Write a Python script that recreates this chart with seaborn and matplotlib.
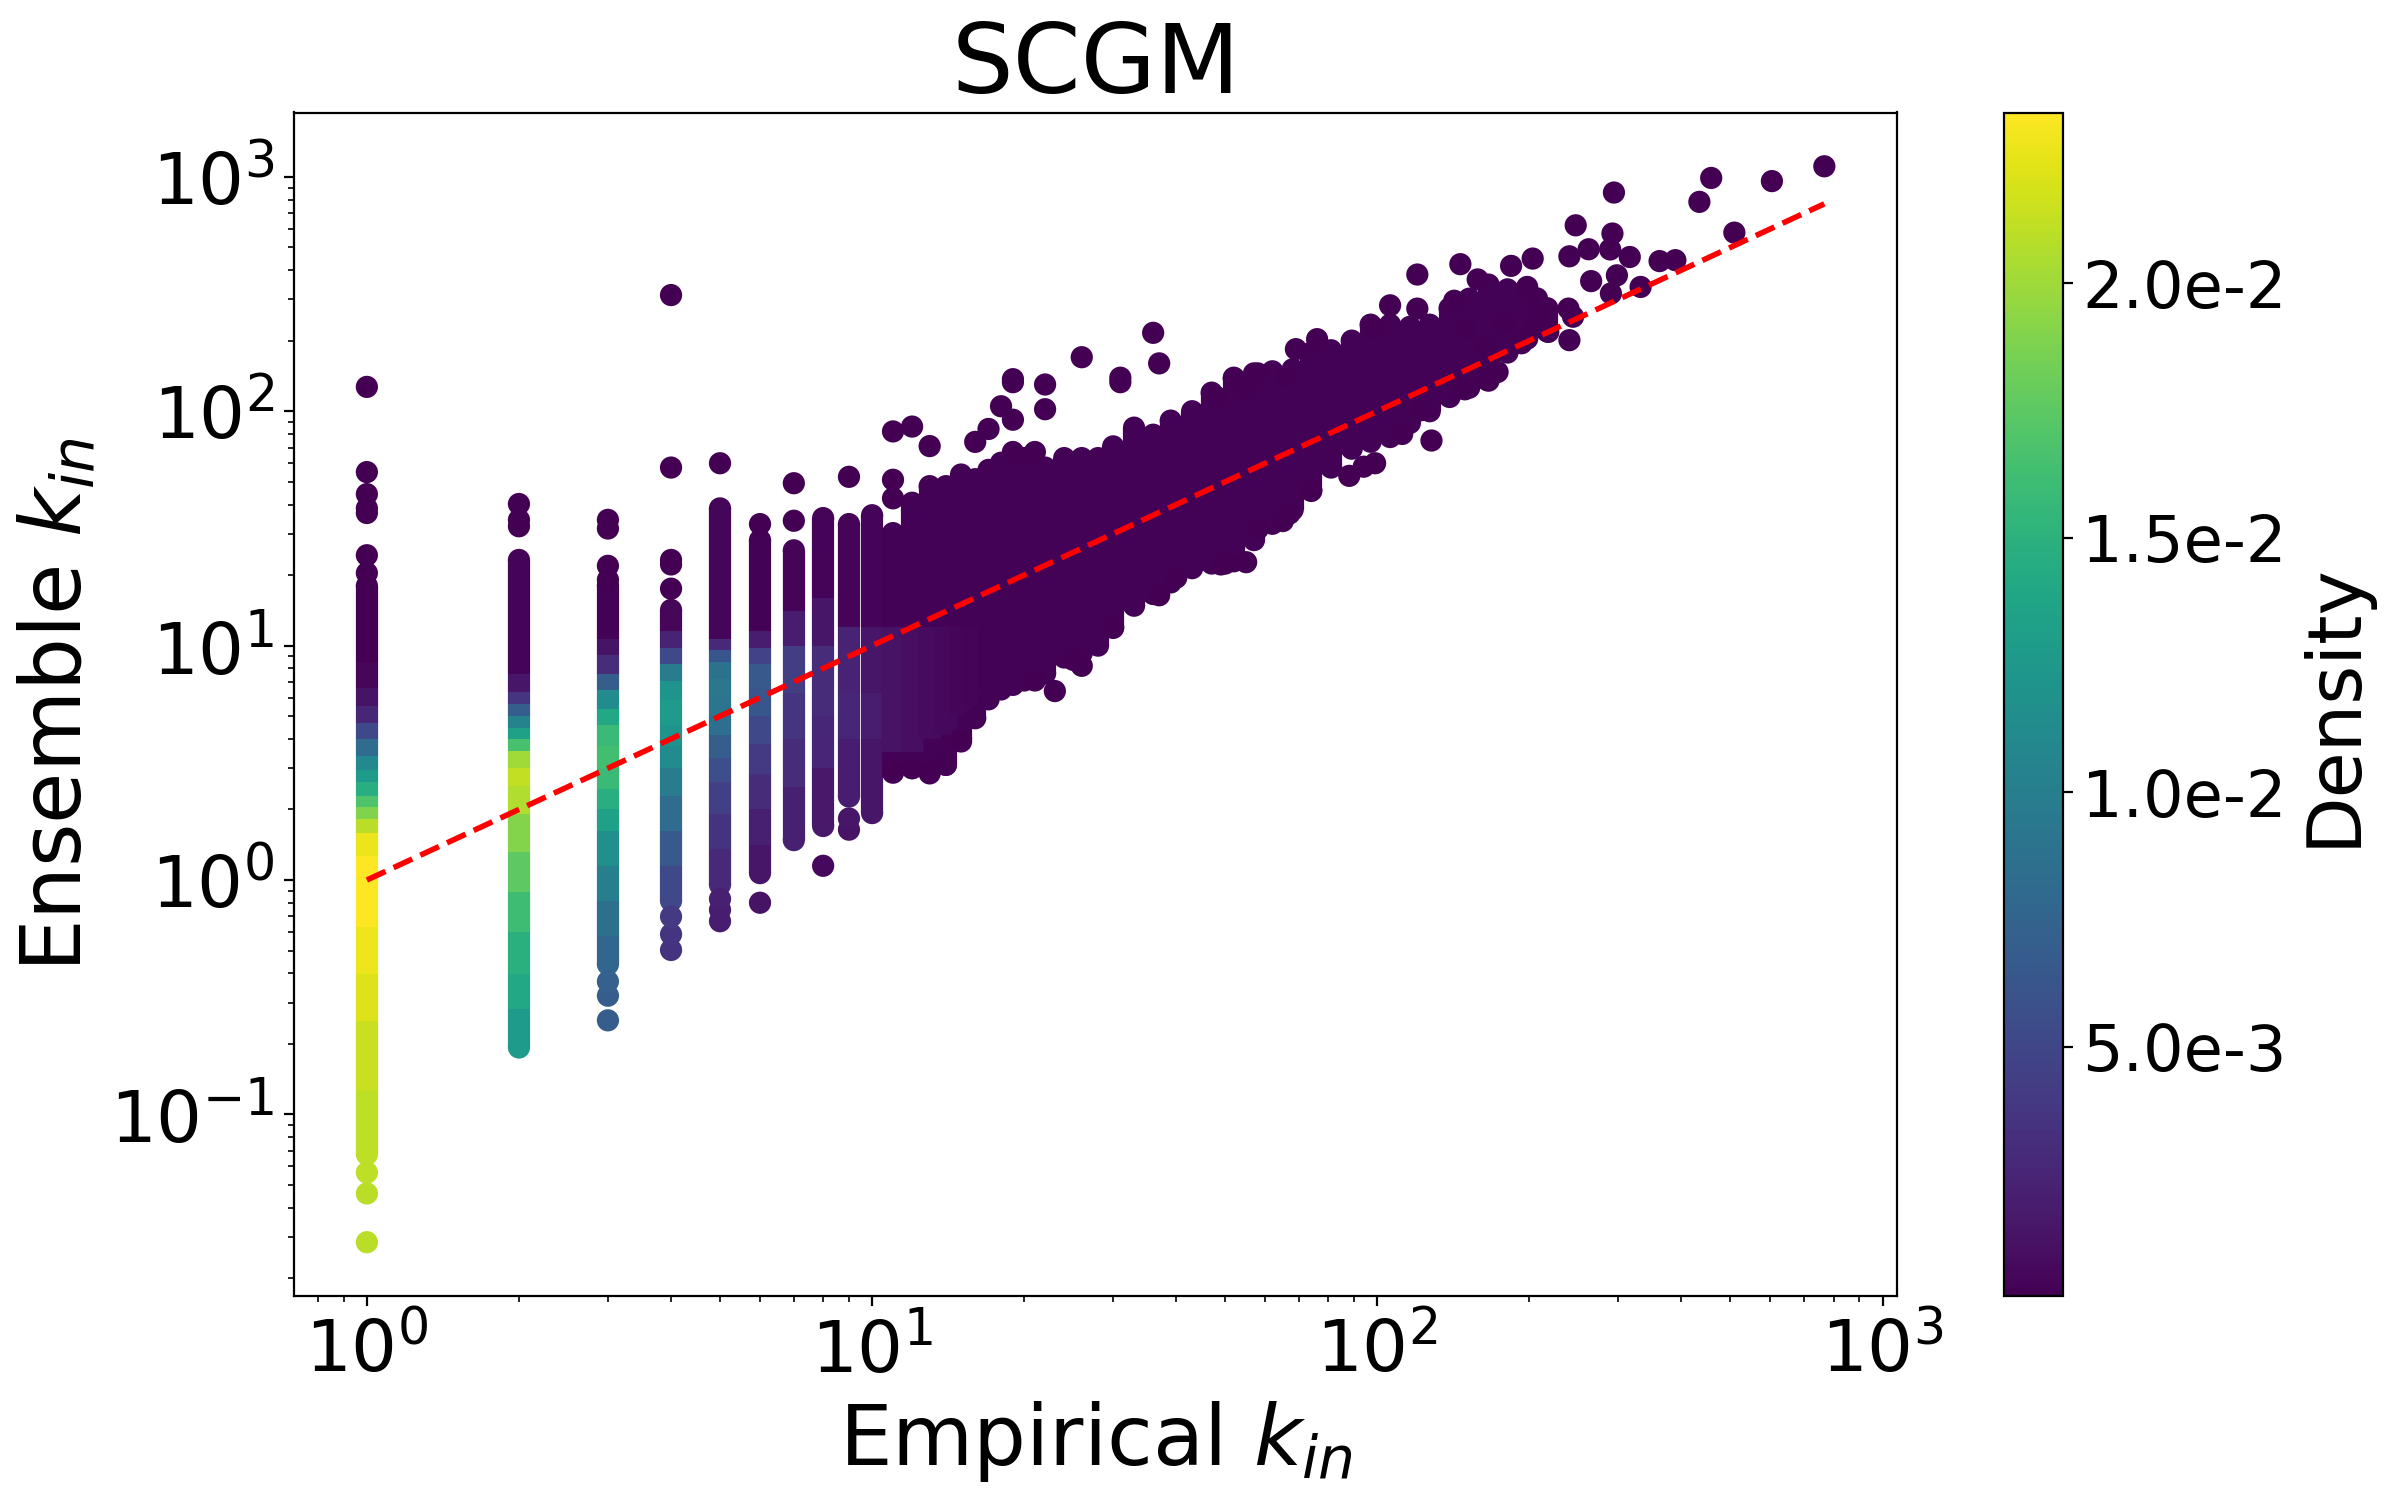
import numpy as np
import pandas as pd
import matplotlib
matplotlib.use("Agg")
import matplotlib.pyplot as plt
import seaborn as sns
from matplotlib.colors import Normalize
from matplotlib.ticker import FuncFormatter

# Escala de densidad de la barra de color
dens_min = 0.0001
dens_max = 0.02335

# Columnas k_in = 1..10: cortes en y y densidad (x1e-3) de cada tramo
c1_y = [0.0676, 0.126, 0.251, 0.398, 0.631, 1.26, 1.58, 1.82, 2.04, 2.29, 2.63, 2.95, 3.39, 3.98, 4.68, 5.5, 6.6, 8.5, 18]
c1_d = [21.0, 21.4, 22.1, 22.8, 23.3, 22.7, 20.9, 18.9, 16.9, 14.7, 12.8, 11.0, 8.2, 5.1, 2.6, 1.2, 0.5, 0.1]
c2_y = [0.193, 0.282, 0.398, 0.603, 0.891, 1.32, 1.91, 2.51, 3.02, 3.55, 3.98, 4.47, 5.01, 5.62, 6.31, 7.59, 23.2]
c2_d = [12.8, 14.0, 14.9, 16.1, 17.6, 19.0, 20.6, 21.2, 20.0, 16.6, 13.3, 10.5, 7.0, 3.7, 1.4, 0.35]
c3_y = [0.437, 0.575, 0.813, 1.15, 1.62, 2.0, 2.45, 3.02, 3.72, 4.57, 5.37, 6.46, 7.59, 9.12, 10.7, 18.1]
c3_d = [7.7, 8.6, 10.0, 11.7, 13.3, 14.7, 15.9, 16.3, 15.9, 14.0, 11.2, 7.0, 3.0, 1.2, 0.2]
c4_y = [0.815, 1.15, 1.62, 2.29, 3.02, 3.72, 4.57, 5.89, 7.08, 8.32, 9.77, 11.5, 14.2]
c4_d = [5.1, 6.5, 8.2, 9.8, 11.2, 12.1, 12.8, 12.1, 9.8, 5.1, 2.3, 0.5]
c5_y = [0.955, 1.35, 1.91, 2.63, 3.31, 4.17, 5.01, 6.03, 7.24, 8.51, 9.55, 10.7, 38.5]
c5_d = [2.8, 3.5, 4.4, 5.6, 7.0, 8.4, 9.1, 9.3, 8.9, 6.3, 2.8, 0.4]
c6_y = [1.07, 1.41, 2.0, 2.82, 3.8, 5.01, 6.61, 8.32, 9.77, 11.5, 28.2]
c6_d = [1.4, 2.1, 3.0, 4.0, 5.1, 6.3, 6.5, 4.7, 1.9, 0.25]
c7_y = [1.48, 2.5, 4.0, 6.3, 10, 14, 25.5]
c7_d = [2.1, 3.0, 3.7, 4.2, 1.9, 0.3]
c8_y = [1.7, 3.0, 5.0, 10, 16, 35]
c8_d = [1.6, 2.6, 3.0, 1.4, 0.3]
c9_y = [2.27, 4.0, 6.3, 12, 33]
c9_d = [1.9, 2.6, 2.3, 0.3]
c10_y = [1.93, 4.0, 6.3, 12, 36]
c10_d = [1.4, 1.9, 1.4, 0.3]

# Nube densa (k_in >= 11): rango vertical por valor empirico
nube_x = [11, 12, 13, 14, 15, 16, 17, 18, 19, 20, 22, 24, 26, 28, 30, 33, 36, 39, 43, 47,
          52, 57, 62, 68, 74, 81, 89, 97, 106, 116, 127, 139, 152, 166, 181, 198, 217]
nube_lo = [2.95, 3.0, 2.9, 3.1, 4.0, 4.9, 5.9, 6.5, 6.8, 7.1, 7.6, 8.9, 9.3, 10.0, 12.0, 14.8, 16.6, 18.6, 21.4, 22.4,
           22.9, 28.2, 33.1, 38.0, 45.7, 57.5, 69.2, 74.1, 77.6, 89.1, 100, 115, 126, 135, 178, 204, 219]
nube_hi = [30.2, 40.7, 47.9, 47.9, 53.7, 51.3, 56.2, 60.3, 57.5, 63.1, 57.5, 63.1, 63.1, 63.1, 70.8, 85.1, 79.4, 91.2, 100, 120,
           138, 145, 148, 151, 178, 182, 200, 234, 234, 229, 234, 275, 302, 347, 331, 309, 275]
nube_d = 0.2

# Zona algo mas densa dentro de la nube
brillo_x = [11, 12, 13, 14, 15, 16, 17]
brillo_lo = [3.5, 3.5, 4.0, 4.2, 5.0, 5.5, 6.5]
brillo_hi = [12, 12, 12, 12, 12, 12, 12]
brillo_d = [1.2, 1.0, 0.8, 0.6, 0.45, 0.35, 0.25]

# Puntos sueltos
pt_x = [1, 1, 1, 1, 1, 1, 1, 1, 1, 1,
        2, 2, 2, 3, 3, 3, 3, 3, 3, 3,
        4, 4, 4, 4, 4, 4, 4, 4, 5, 5, 5, 5, 6, 6, 7, 7, 8, 9, 9, 9,
        36, 37, 26, 31, 19, 22, 22, 18, 19, 17, 16, 11, 12, 13, 19, 21, 11, 11, 19, 31,
        23, 21, 26, 25, 30, 15, 14, 13, 12, 11, 37, 40, 49, 55, 67, 58, 50, 65, 74,
        767, 604, 458, 434, 509, 294, 247, 292, 289, 262, 240, 316, 362, 389, 298, 265, 290, 332,
        239, 244, 240, 203, 184, 146, 158, 120, 106, 120, 142, 198, 207, 209, 218, 206, 193, 178,
        164, 149, 165, 173, 149, 143, 128, 99, 94, 88, 112, 122, 99, 76, 69, 58, 52, 55, 48, 66]
pt_y = [0.0285, 0.046, 0.0565, 20.4, 24.3, 36.8, 38.5, 44.3, 55, 127,
        32.3, 34.4, 40.2, 0.252, 0.321, 0.369, 19.1, 21.9, 31.6, 34.4,
        0.503, 0.587, 0.698, 17.5, 22.2, 23.2, 57.5, 313, 0.667, 0.746, 0.83, 60, 0.80, 33, 34.1, 49.3, 1.15, 1.64, 1.83, 52.5,
        216, 160, 170, 139, 137, 130, 102, 105, 92, 84, 74, 82, 86, 71, 67, 67, 51, 42.5, 133, 133,
        6.4, 7.1, 8.2, 8.7, 11.9, 3.9, 3.1, 2.85, 3.0, 2.87, 16.4, 19.5, 22.2, 22.7, 36.6, 31.5, 22.4, 34, 46,
        1109, 959, 989, 782, 578, 857, 621, 573, 490, 491, 458, 455, 437, 441, 380, 359, 318, 339,
        274, 253, 201, 448, 417, 424, 365, 383, 283, 274, 296, 339, 303, 270, 218, 233, 195, 237,
        188, 225, 136, 147, 124, 125, 75, 60, 58, 53, 80, 101, 225, 203, 184, 145, 139, 125, 115, 140]
pt_d = [20.9, 20.9, 21.0, 0.1, 0.1, 0.1, 0.1, 0.1, 0.1, 0.1,
        0.1, 0.1, 0.1, 7.0, 7.0, 7.2, 0.1, 0.1, 0.1, 0.1,
        3.5, 3.7, 4.0, 0.1, 0.1, 0.1, 0.1, 0.1, 1.9, 1.9, 2.1, 0.1, 1.2, 0.1, 0.1, 0.1, 0.6, 1.2, 1.4, 0.1]
pt_d = pt_d + [0.1] * (len(pt_x) - len(pt_d))

# Recta y = x
recta_x = [1, 767]

columnas = [(1, c1_y, c1_d), (2, c2_y, c2_d), (3, c3_y, c3_d), (4, c4_y, c4_d), (5, c5_y, c5_d),
            (6, c6_y, c6_d), (7, c7_y, c7_d), (8, c8_y, c8_d), (9, c9_y, c9_d), (10, c10_y, c10_d)]

# Armo tramos verticales y puntos extremos
tramos = []
extremos = []
for x, ys, ds in columnas:
    for i in range(len(ds)):
        tramos.append((x, ys[i], ys[i + 1], ds[i] * 1e-3))
    extremos.append((x, ys[0], ds[0] * 1e-3))
    extremos.append((x, ys[-1], ds[-1] * 1e-3))
for x, lo, hi in zip(nube_x, nube_lo, nube_hi):
    tramos.append((x, lo, hi, nube_d * 1e-3))
    extremos.append((x, lo, nube_d * 1e-3))
    extremos.append((x, hi, nube_d * 1e-3))
for x, lo, hi, d in zip(brillo_x, brillo_lo, brillo_hi, brillo_d):
    tramos.append((x, lo, hi, d * 1e-3))

df_tramos = pd.DataFrame(tramos, columns=['x', 'lo', 'hi', 'd'])
df_puntos = pd.concat([
    pd.DataFrame(extremos, columns=['x', 'y', 'd']),
    pd.DataFrame({'x': pt_x, 'y': pt_y, 'd': np.array(pt_d) * 1e-3}),
], ignore_index=True)

norma = Normalize(vmin=dens_min, vmax=dens_max)
cmap = plt.get_cmap('viridis')

fig = plt.figure(figsize=(12, 7.5), dpi=200)
ax = fig.add_axes([0.1225, 0.136, 0.668, 0.789])
cax = fig.add_axes([0.835, 0.136, 0.0246, 0.789])

lineas = ax.vlines(df_tramos['x'], df_tramos['lo'], df_tramos['hi'],
                   colors=cmap(norma(df_tramos['d'])), linewidth=8, zorder=1)
lineas.set_capstyle('butt')

sns.scatterplot(data=df_puntos, x='x', y='y', hue='d', palette='viridis',
                hue_norm=(dens_min, dens_max), s=64, linewidth=0,
                legend=False, ax=ax, zorder=2)

ax.plot(recta_x, recta_x, 'r--', lw=2, zorder=3)

ax.set_xscale('log')
ax.set_yscale('log')
ax.set_title('SCGM', fontsize=35)
ax.set_xlabel('Empirical $k_{in}$', fontsize=30)
ax.set_ylabel('Ensemble $k_{in}$', fontsize=30)
ax.tick_params(axis='both', which='major', labelsize=26)

sm = plt.cm.ScalarMappable(norm=norma, cmap=cmap)
cbar = fig.colorbar(sm, cax=cax)


def formato(v, pos):
    m, e = f"{v:.1e}".split("e")
    return f"{m}e{int(e)}"


cbar.ax.yaxis.set_major_formatter(FuncFormatter(formato))
cbar.ax.tick_params(labelsize=23)
cbar.set_label('Density', fontsize=27)

fig.savefig('out.png', dpi=200)
